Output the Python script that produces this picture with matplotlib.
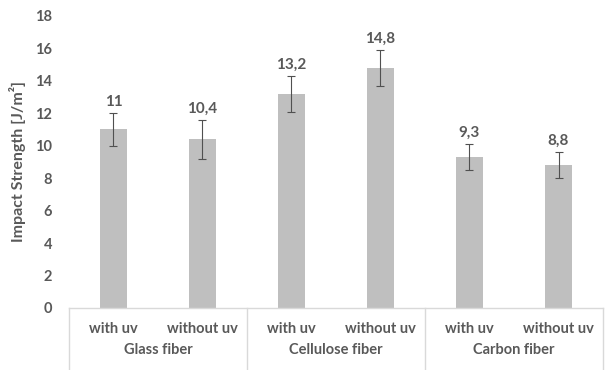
import matplotlib
matplotlib.use("Agg")
import matplotlib.pyplot as plt
import numpy as np

groups = ["Glass fiber", "Cellulose fiber", "Carbon fiber"]
conditions = ["with uv", "without uv"]
values = [11.0, 10.4, 13.2, 14.8, 9.3, 8.8]
errors = [1.0, 1.2, 1.1, 1.1, 0.8, 0.8]
value_labels = ["11", "10,4", "13,2", "14,8", "9,3", "8,8"]
y_ticks = [0, 2, 4, 6, 8, 10, 12, 14, 16, 18]

plt.rcParams["font.family"] = ["Lato", "DejaVu Sans"]
text_color = "#595959"

fig = plt.figure(figsize=(6.05, 3.70), dpi=100)
ax = fig.add_axes([0.114, 0.1676, 0.8827, 0.7894])

x = np.arange(len(values))
ax.bar(x, values, width=0.31, color="#bfbfbf", zorder=2)
ax.errorbar(x, values, yerr=errors, fmt="none", ecolor="#505050",
            elinewidth=0.8, capsize=3, capthick=0.8, zorder=3)

for xi, v, e, lab in zip(x, values, errors, value_labels):
    ax.annotate(lab, (xi, v + e), xytext=(0, 3), textcoords="offset points",
                ha="center", va="bottom", fontsize=11, fontweight="bold",
                color=text_color)

ax.set_xlim(-0.5, len(values) - 0.5)
ax.set_ylim(0, 18)
ax.set_yticks(y_ticks)
ax.set_yticklabels([str(t) for t in y_ticks], fontsize=10.5, fontweight="bold",
                   color=text_color)
ax.tick_params(axis="y", length=0, pad=12)
ax.tick_params(axis="x", length=0, pad=10)
ax.set_xticks(x)
ax.set_xticklabels([conditions[i % 2] for i in range(len(values))],
                   fontsize=10.5, fontweight="bold", color=text_color)

for side in ["top", "right", "left"]:
    ax.spines[side].set_visible(False)
ax.spines["bottom"].set_color("#d9d9d9")
ax.spines["bottom"].set_linewidth(1.0)

ax.set_ylabel("Impact Strength [J/m²]", fontsize=11.5, fontweight="bold",
              color=text_color, labelpad=7)

# group labels and separators under the category axis
trans = ax.get_xaxis_transform()
for gi, g in enumerate(groups):
    ax.text(gi * 2 + 0.5, -0.145, g, transform=trans, ha="center", va="center",
            fontsize=10.5, fontweight="bold", color=text_color)
for b in np.arange(len(groups) + 1) * 2 - 0.5:
    ax.plot([b, b], [0, -0.25], transform=trans, color="#d9d9d9",
            linewidth=1.0, clip_on=False)

fig.savefig("out.png", dpi=100)
